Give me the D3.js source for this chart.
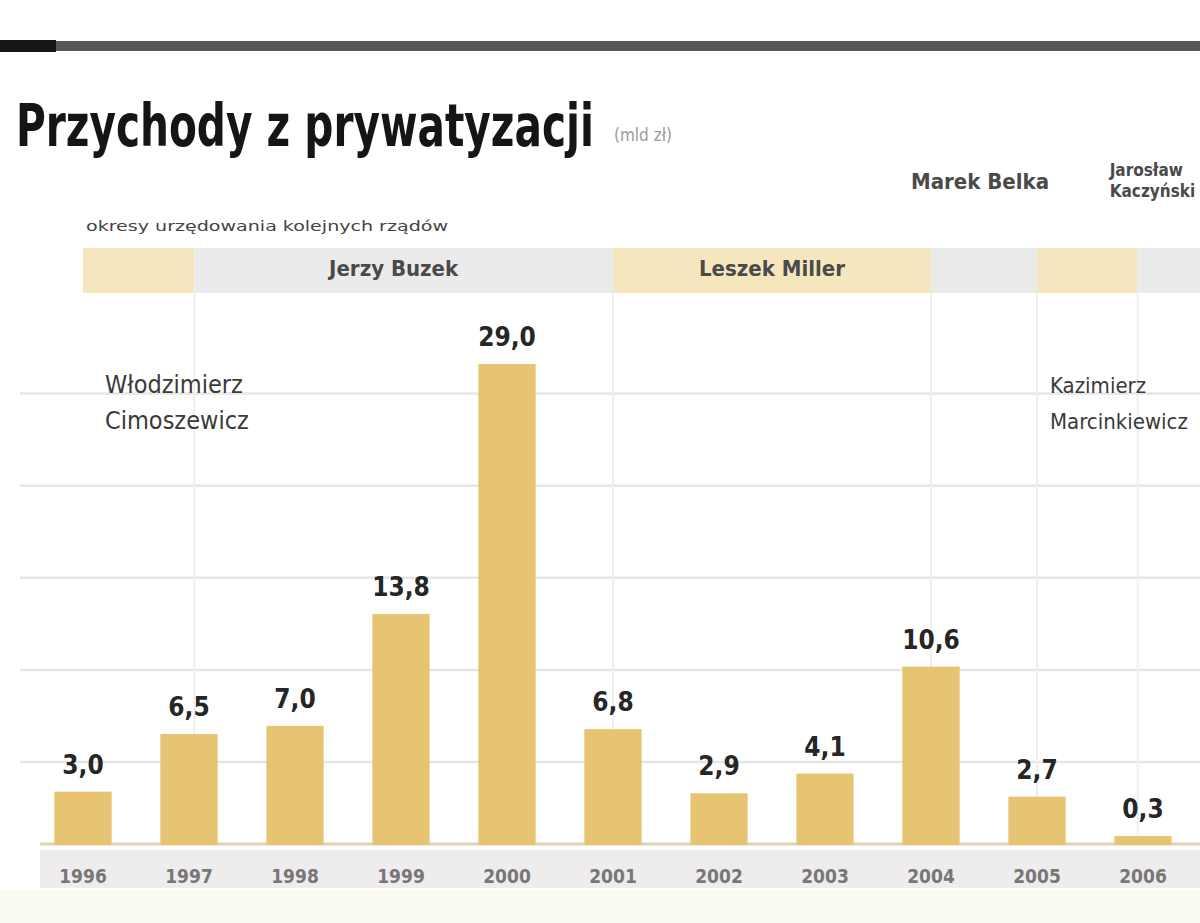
<!doctype html>
<html lang="pl">
<head>
<meta charset="UTF-8">
<title>Przychody z prywatyzacji</title>
<style>
  body { margin: 0; background: #fff; }
  svg { display: block; }
  .narrow { font-family: 'Liberation Sans Narrow', 'DejaVu Sans Condensed', 'Roboto', sans-serif; font-stretch: condensed; }
</style>
</head>
<body>
<script src="https://cdn.jsdelivr.net/npm/d3@7"></script>
<script>
var years = ["1996", "1997", "1998", "1999", "2000", "2001", "2002", "2003", "2004", "2005", "2006"];
var values = [3.0, 6.5, 7.0, 13.8, 29.0, 6.8, 2.9, 4.1, 10.6, 2.7, 0.3];

var premiers = ["Włodzimierz Cimoszewicz", "Jerzy Buzek", "Leszek Miller", "Marek Belka", "Kazimierz Marcinkiewicz", "Jarosław Kaczyński"];
var periodStart = [1996.0, 1997.05, 2001.0, 2004.0, 2005.0, 2005.95];
var periodEnd = [1997.05, 2001.0, 2004.0, 2005.0, 2005.95, 2006.6];

var gridValues = [4.8, 10.4, 16, 21.6, 27.2];

var width = 1200,
    height = 923,
    baseY = 841;

var svg = d3.select("body").append("svg")
    .attr("width", width)
    .attr("height", height);

var x = d3.scaleBand()
    .domain(years)
    .range([30, 1196])
    .paddingInner(0.46)
    .paddingOuter(0.23);

var y = d3.scaleLinear()
    .domain([0, 30])
    .range([baseY, baseY - 30 * 16.45]);

// time axis for the premiers' periods, aligned to bar centres
var t = d3.scaleLinear()
    .domain([1996, 2006])
    .range([x("1996") + x.bandwidth() / 2, x("2006") + x.bandwidth() / 2]);

// cream footer
svg.append("rect")
    .attr("x", 0).attr("y", 890)
    .attr("width", width).attr("height", height - 890)
    .attr("fill", "#fcfbf2");

// top rule
svg.append("rect")
    .attr("x", 0).attr("y", 41)
    .attr("width", width).attr("height", 10)
    .attr("fill", "#575757");
svg.append("rect")
    .attr("x", 0).attr("y", 40)
    .attr("width", 56).attr("height", 12)
    .attr("fill", "#151515");

// title, squeezed to the reference width
var title = svg.append("text")
    .attr("class", "narrow")
    .attr("x", 0).attr("y", 0)
    .attr("font-size", 50)
    .attr("font-weight", "bold")
    .attr("fill", "#151515")
    .text("Przychody z prywatyzacji");
var tw = title.node().getComputedTextLength();
title.attr("transform", "translate(16,146) scale(" + (578 / tw) + ",1.16)");

svg.append("text")
    .attr("class", "narrow")
    .attr("x", 614).attr("y", 141)
    .attr("font-size", 17)
    .attr("fill", "#9a9a9a")
    .text("(mld zł)");

// horizontal rules
svg.selectAll("line.grid")
    .data(gridValues)
    .enter()
    .append("line")
    .attr("class", "grid")
    .attr("x1", 20).attr("x2", width)
    .attr("y1", function(d){ return y(d); })
    .attr("y2", function(d){ return y(d); })
    .attr("stroke", "#e6e6e6")
    .attr("stroke-width", 2.5);

// premiers' periods band
var periods = premiers.map(function(p, i){ return { name: p, s: periodStart[i], e: periodEnd[i], i: i }; });

svg.append("text")
    .attr("class", "narrow")
    .attr("x", 86).attr("y", 231)
    .attr("font-size", 14)
    .attr("fill", "#444")
    .attr("textLength", 362)
    .attr("lengthAdjust", "spacingAndGlyphs")
    .text("okresy urzędowania kolejnych rządów");

svg.selectAll("rect.period")
    .data(periods)
    .enter()
    .append("rect")
    .attr("class", "period")
    .attr("x", function(d){ return t(d.s); })
    .attr("y", 248)
    .attr("width", function(d){ return t(d.e) - t(d.s); })
    .attr("height", 45)
    .attr("fill", function(d){ return d.i % 2 ? "#ebebeb" : "#f5e6bd"; });

svg.selectAll("line.period")
    .data(periods.slice(1))
    .enter()
    .append("line")
    .attr("class", "period")
    .attr("x1", function(d){ return t(d.s); })
    .attr("x2", function(d){ return t(d.s); })
    .attr("y1", 293).attr("y2", baseY)
    .attr("stroke", "#efefef")
    .attr("stroke-width", 2);

// names inside the band
[1, 2].forEach(function(i){
    var d = periods[i];
    svg.append("text")
        .attr("class", "narrow")
        .attr("x", (t(d.s) + t(d.e)) / 2 - (i === 1 ? 10 : 0))
        .attr("y", 276)
        .attr("text-anchor", "middle")
        .attr("font-size", 22)
        .attr("font-weight", "bold")
        .attr("fill", "#4a4a4a")
        .text(d.name);
});

// Belka above the band
svg.append("text")
    .attr("class", "narrow")
    .attr("x", (t(periods[3].s) + t(periods[3].e)) / 2 - 4)
    .attr("y", 189)
    .attr("text-anchor", "middle")
    .attr("font-size", 22)
    .attr("font-weight", "bold")
    .attr("fill", "#4a4a4a")
    .text(periods[3].name);

// Kaczyński above the band, wrapped to fit the page edge
var kacz = svg.append("text")
    .attr("class", "narrow")
    .attr("x", t(periods[5].s) - 28)
    .attr("y", 176)
    .attr("font-size", 17)
    .attr("font-weight", "bold")
    .attr("fill", "#4a4a4a");
periods[5].name.split(" ").forEach(function(p, k){
    kacz.append("tspan")
        .attr("x", kacz.attr("x"))
        .attr("dy", k ? 21 : 0)
        .text(p);
});

// names in the plot area, two lines
[0, 4].forEach(function(i){
    var d = periods[i];
    var parts = d.name.split(" ");
    var tx = svg.append("text")
        .attr("class", "narrow")
        .attr("x", i === 0 ? t(d.s) + 22 : t(d.s) + 13)
        .attr("y", 393)
        .attr("font-size", i === 0 ? 25 : 22)
        .attr("fill", "#3a3a3a");
    parts.forEach(function(p, k){
        tx.append("tspan")
            .attr("x", tx.attr("x"))
            .attr("dy", k ? 36 : 0)
            .text(p);
    });
});

// year label strip
svg.append("rect")
    .attr("x", 40).attr("y", 850)
    .attr("width", width - 40).attr("height", 38)
    .attr("fill", "#efecee");

svg.append("line")
    .attr("x1", 40).attr("x2", width)
    .attr("y1", baseY + 3).attr("y2", baseY + 3)
    .attr("stroke", "#ddd3b4")
    .attr("stroke-width", 3);

// bars
svg.selectAll("rect.bar")
    .data(values)
    .enter()
    .append("rect")
    .attr("class", "bar")
    .attr("x", function(d, i){ return x(years[i]); })
    .attr("y", function(d){ return y(d); })
    .attr("width", x.bandwidth())
    .attr("height", function(d){ return baseY + 4 - y(d); })
    .attr("fill", "#e6c472");

// value labels
svg.selectAll("text.val")
    .data(values)
    .enter()
    .append("text")
    .attr("class", "narrow val")
    .attr("x", function(d, i){ return x(years[i]) + x.bandwidth() / 2; })
    .attr("y", function(d){ return y(d) - 18; })
    .attr("text-anchor", "middle")
    .attr("font-size", 26)
    .attr("font-weight", "bold")
    .attr("fill", "#262626")
    .text(function(d){ return d.toFixed(1).replace(".", ","); });

// x axis (years)
var xAxis = d3.axisBottom(x).tickSize(0).tickPadding(0);
var gx = svg.append("g")
    .attr("transform", "translate(0," + 876 + ")")
    .call(xAxis);
gx.select(".domain").remove();
gx.selectAll("text")
    .attr("class", "narrow")
    .attr("dy", "0.35em")
    .attr("font-size", 19)
    .attr("font-weight", "bold")
    .attr("fill", "#777");
</script>
</body>
</html>
